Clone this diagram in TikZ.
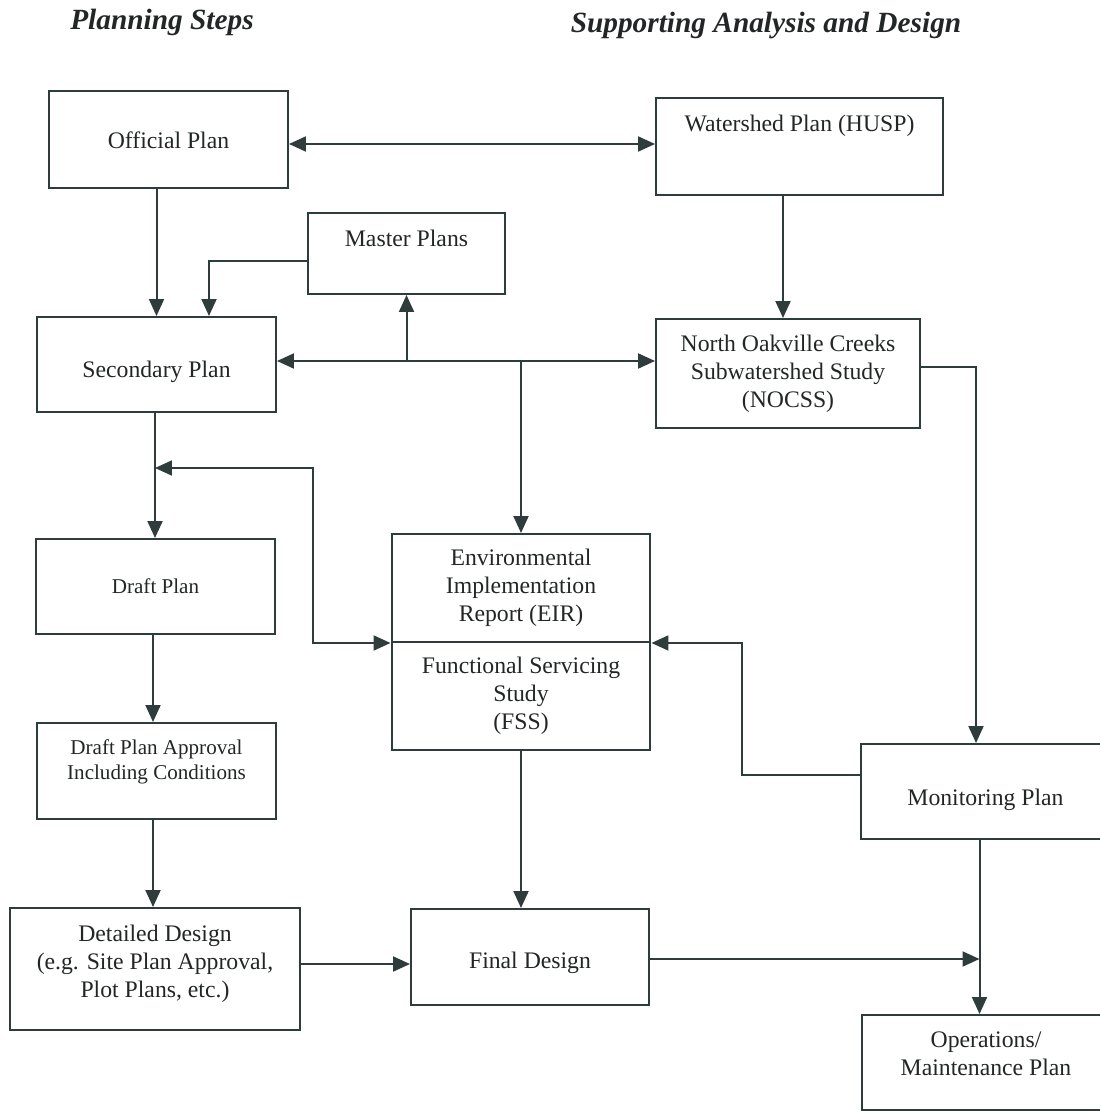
\documentclass[tikz,border=0pt]{standalone}
\usepackage{fontspec}
\setmainfont{Liberation Serif}
\usepackage{xcolor}
\usepackage{tikz}
\usetikzlibrary{arrows.meta,positioning,calc}
\definecolor{linegray}{RGB}{47,60,60}
\definecolor{textgray}{RGB}{35,38,38}
\tikzset{
  planbox/.style={draw=linegray, line width=0.04cm, align=center, inner sep=0pt, text=textgray, font=\fontsize{13.5}{15.9}\selectfont},
  smallbox/.style={planbox, font=\fontsize{12}{14.2}\selectfont},
  headtext/.style={text=textgray, font=\fontsize{16.7}{20}\selectfont\bfseries\itshape},
  flowarrow/.style={-{Triangle[length=0.34cm,width=0.3cm]}, line width=0.04cm, draw=linegray},
  botharrow/.style={flowarrow, {Triangle[length=0.34cm,width=0.3cm]}-{Triangle[length=0.34cm,width=0.3cm]}}
}

\begin{document}
\begin{tikzpicture}[x=0.02cm, y=-0.02cm]
    \useasboundingbox (0,0) rectangle (1099,1111);
    % column headings
    \node[headtext] (steps) at (162,22) {Planning Steps};
    \node[headtext] (support) at (766,25) {Supporting Analysis and Design};
    % planning steps
    \node[planbox, minimum width=4.78cm, minimum height=1.94cm, text height=1.16cm, text depth=0.78cm] (official) at (168.5,139.5) {Official Plan};
    \node[planbox, minimum width=4.78cm, minimum height=1.90cm, text height=1.22cm, text depth=0.68cm] (secondary) at (156.5,364.5) {Secondary Plan};
    \node[smallbox, minimum width=4.78cm, minimum height=1.90cm] (draft) at (155.5,586.5) {Draft Plan};
    \node[smallbox, minimum width=4.78cm, minimum height=1.92cm, text height=1.12cm, text depth=0.80cm] (approval) at (156.5,771) {Draft Plan Approval\\Including Conditions};
    \node[planbox, minimum width=5.80cm, minimum height=2.44cm, text height=1.78cm, text depth=0.66cm] (detailed) at (155,969) {Detailed Design\\(e.g. Site Plan Approval,\\Plot Plans, etc.)};
    % supporting analysis and design
    \node[planbox, minimum width=5.74cm, minimum height=1.94cm, text height=0.68cm, text depth=1.26cm] (watershed) at (799.5,146.5) {Watershed Plan (HUSP)};
    \node[planbox, minimum width=3.94cm, minimum height=1.62cm, text height=0.66cm, text depth=0.96cm] (master) at (406.5,253.5) {Master Plans};
    \node[planbox, minimum width=5.28cm, minimum height=2.18cm] (nocss) at (788,373.5) {North Oakville Creeks\\Subwatershed Study\\(NOCSS)};
    \node[planbox, minimum width=5.18cm, minimum height=2.16cm] (eir) at (521,588) {Environmental\\Implementation\\Report (EIR)};
    \node[planbox, minimum width=5.18cm, minimum height=2.16cm] (fss) at (521,696) {Functional Servicing\\Study\\(FSS)};
    \node[planbox, minimum width=4.98cm, minimum height=1.90cm, text height=1.22cm, text depth=0.68cm] (monitoring) at (985.5,791.5) {Monitoring Plan};
    \node[planbox, minimum width=4.76cm, minimum height=1.92cm, text height=1.18cm, text depth=0.74cm] (final) at (530,957) {Final Design};
    \node[planbox, minimum width=4.96cm, minimum height=1.90cm, text height=1.20cm, text depth=0.70cm] (ops) at (986,1062.5) {Operations/\\Maintenance Plan};
    % junction points
    \coordinate (hub) at ([yshift=0.07cm]secondary.east);
    \coordinate (loop) at (313,468);
    \coordinate (mo) at ([xshift=-0.12cm]monitoring.south);
    % connectors
    \draw[botharrow] ([yshift=0.05cm]official.east |- watershed.west) -- ([yshift=0.05cm]watershed.west);
    \draw[flowarrow] (official.south -| secondary.north) -- (secondary.north);
    \draw[flowarrow] ([yshift=-0.15cm]master.west) -| ([xshift=3.46cm]secondary.north west);
    \draw[flowarrow] ([xshift=-0.1cm]watershed.south -| nocss.north) -- ([xshift=-0.1cm]nocss.north);
    \draw[botharrow] (hub) -- (hub -| nocss.west);
    \draw[flowarrow] (hub -| master.south) -- (master.south);
    \draw[flowarrow] (hub -| eir.north) -- (eir.north);
    \draw[flowarrow] ([xshift=-0.03cm]secondary.south) -- ([xshift=-0.03cm]secondary.south |- draft.north);
    \draw[botharrow] ([xshift=-0.03cm]secondary.south |- loop) -- (loop) |- (eir.south west);
    \draw[flowarrow] ([yshift=0.13cm]nocss.east) -| ([xshift=-0.19cm]monitoring.north);
    \draw[flowarrow] ([yshift=0.33cm]monitoring.west) -| ([xshift=1.82cm]eir.south east) -- (eir.south east);
    \draw[flowarrow] ([xshift=-0.05cm]draft.south) -- ([xshift=-0.05cm]draft.south |- approval.north);
    \draw[flowarrow] ([xshift=-0.07cm]approval.south) -- ([xshift=-0.07cm]approval.south |- detailed.north);
    \draw[flowarrow] ([yshift=0.1cm]detailed.east) -- ([yshift=0.1cm]detailed.east -| final.west);
    \draw[flowarrow] (fss.south) -- (fss.south |- final.north);
    \draw[flowarrow] ([yshift=-0.04cm]final.east) -- ([yshift=-0.04cm]final.east -| mo);
    \draw[flowarrow] (mo) -- (mo |- ops.north);
  \end{tikzpicture}
\end{document}
